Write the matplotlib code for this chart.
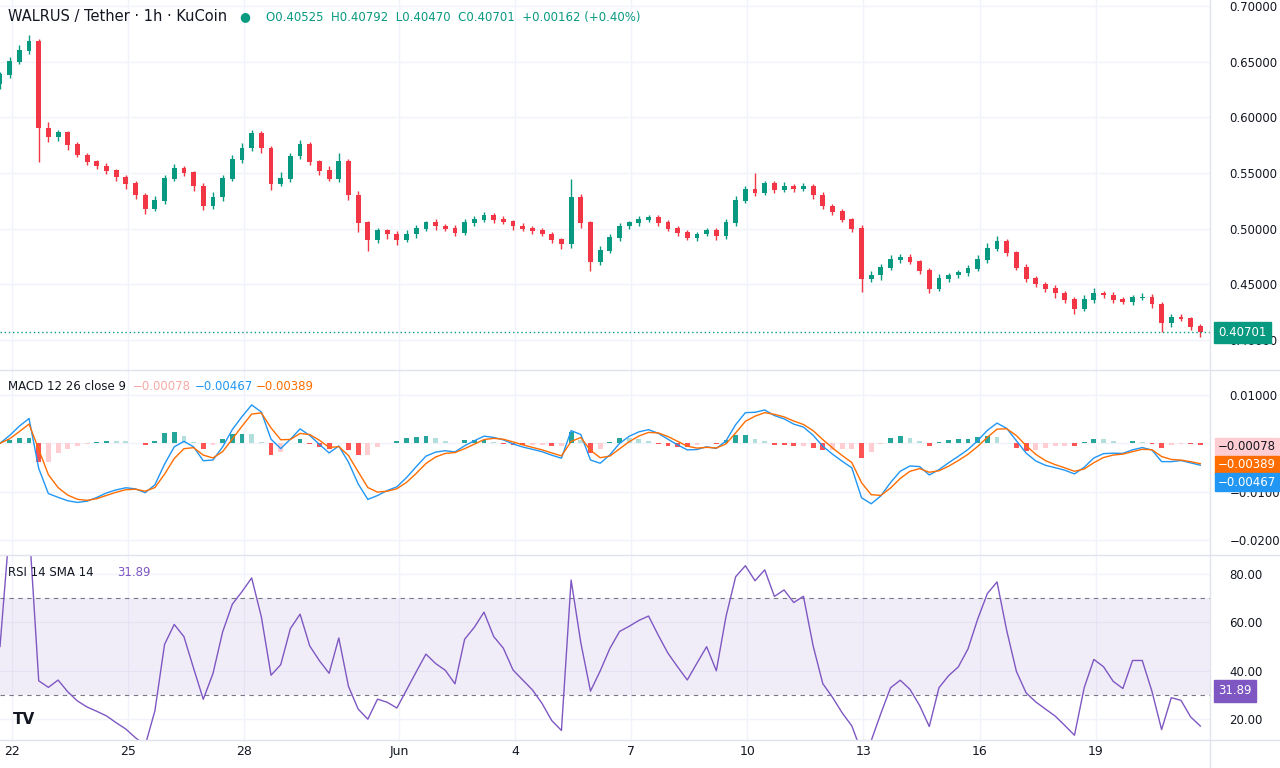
import numpy as np
import pandas as pd
import matplotlib
matplotlib.use("Agg")
import matplotlib.pyplot as plt

closes = [0.638,0.650,0.660,0.668,0.590,0.582,0.586,0.575,0.566,0.560,
          0.556,0.552,0.546,0.540,0.530,0.518,0.525,0.545,0.554,0.550,
          0.538,0.520,0.528,0.545,0.562,0.572,0.585,0.572,0.540,0.545,
          0.565,0.575,0.560,0.552,0.545,0.560,0.530,0.505,0.490,0.498,
          0.495,0.490,0.495,0.500,0.505,0.502,0.500,0.496,0.505,0.508,
          0.512,0.508,0.506,0.502,0.500,0.498,0.495,0.490,0.486,0.528,
          0.505,0.470,0.480,0.492,0.502,0.505,0.508,0.510,0.505,0.500,
          0.496,0.492,0.495,0.498,0.493,0.505,0.525,0.535,0.532,0.540,
          0.535,0.538,0.536,0.538,0.530,0.520,0.515,0.508,0.500,0.455,
          0.458,0.465,0.472,0.474,0.470,0.462,0.446,0.455,0.458,0.460,
          0.464,0.472,0.482,0.488,0.478,0.465,0.455,0.450,0.446,0.442,
          0.436,0.428,0.436,0.442,0.440,0.436,0.434,0.438,0.438,0.432,
          0.415,0.420,0.419,0.412,0.40701]
first_open = 0.630
wick_up = [3,4,5,6,2,6,3,2,3,2,2,3,2,2,3,2,4,3,4,2,2,3,5,3,4,5,4,3,2,6,
           3,5,3,2,4,8,3,4,2,3,2,3,4,3,2,4,2,3,4,3,3,2,3,2,3,2,3,2,2,17,
           3,2,4,3,3,2,3,2,2,3,2,3,2,3,3,4,4,3,15,3,3,4,2,3,2,3,2,3,2,3,
           4,3,4,3,3,2,3,4,2,3,3,4,5,5,3,2,3,2,2,3,2,3,4,5,2,3,3,2,4,3,
           2,3,3,2,2]
wick_dn = [5,3,2,3,30,4,3,4,2,3,2,3,3,4,3,5,2,3,2,3,4,3,2,3,2,3,2,4,5,2,
           3,2,3,4,2,3,4,8,10,3,4,5,2,3,2,3,2,3,2,3,2,3,2,3,2,3,2,3,4,3,
           4,8,3,2,3,2,3,2,3,2,3,2,3,2,3,2,3,2,3,2,3,2,3,2,3,2,3,2,3,12,
           3,4,2,3,2,3,4,2,3,2,3,2,3,2,3,2,3,2,3,4,3,5,2,3,2,3,2,3,2,3,
           8,3,2,3,4]
day_labels = ["22","25","28","Jun","4","7","10","13","16","19","22"]
day_offsets = [0,3,6,10,13,16,19,22,25,28,31]

UP, DN = "#089981", "#f23645"
c = np.array(closes)
o = np.concatenate([[first_open], c[:-1]])
h = np.maximum(o, c) + np.array(wick_up) / 1000
l = np.minimum(o, c) - np.array(wick_dn) / 1000
n = len(c)
idx = np.arange(n)
col = np.where(c >= o, UP, DN)

s = pd.Series(c)
macd = (s.ewm(span=4, adjust=False).mean() - s.ewm(span=7, adjust=False).mean()) * 0.9
sig = macd.ewm(span=2.5, adjust=False).mean()
hist = macd - sig
d = s.diff()
up = d.clip(lower=0).ewm(alpha=1/5, adjust=False).mean()
dn = (-d.clip(upper=0)).ewm(alpha=1/5, adjust=False).mean()
rsi = (100 - 100 / (1 + up / dn)).fillna(50)

fig = plt.figure(figsize=(12.8, 7.68), dpi=100)
W = 1210 / 1280
ax1 = fig.add_axes([0, 398/768, W, 370/768])
ax2 = fig.add_axes([0, 213/768, W, 185/768], sharex=ax1)
ax3 = fig.add_axes([0, 28/768, W, 185/768], sharex=ax1)
px = 9.68
xl = (0, 1210 / px)
tickpos = [(12 + 38.7 * dd) / px for dd in day_offsets]
grid = "#f0f3fa"
for ax in (ax1, ax2, ax3):
    for sp in ax.spines.values():
        sp.set_visible(False)
    ax.yaxis.tick_right()
    ax.tick_params(axis="y", length=0, labelsize=8.5, colors="#131722", pad=14)
    ax.tick_params(axis="x", length=0)
    ax.set_xticks(tickpos)
    ax.grid(True, color=grid, lw=1)
    ax.set_axisbelow(True)
    ax.set_xlim(xl)
for ax in (ax1, ax2):
    plt.setp(ax.get_xticklabels(), visible=False)
ax3.set_xticklabels(day_labels, fontsize=9, color="#131722")

ax1.vlines(idx, l, h, colors=col, lw=1)
ax1.bar(idx, np.abs(c - o) + 0.0006, bottom=np.minimum(o, c), width=0.5, color=col)
ax1.set_ylim(0.373, 0.7054)
ax1.set_yticks(np.arange(0.40, 0.701, 0.05))
ax1.yaxis.set_major_formatter(matplotlib.ticker.FormatStrFormatter("%.5f"))
ax1.axhline(c[-1], color=UP, lw=1, ls=(0, (1, 2)))
ax1.text(1.0 + 8/1210, c[-1], f"{c[-1]:.5f}", transform=ax1.get_yaxis_transform(),
         color="white", fontsize=8.5, va="center", ha="left",
         bbox=dict(boxstyle="square,pad=0.35", fc=UP, ec=UP))
fig.text(8/1280, 1 - 17/768, "WALRUS / Tether · 1h · KuCoin", fontsize=10.5, color="#131722", va="center")
fig.text(239/1280, 1 - 17/768, "●", fontsize=9, color=UP, va="center")
fig.text(266/1280, 1 - 17/768, "O0.40525  H0.40792  L0.40470  C0.40701  +0.00162 (+0.40%)",
         fontsize=8.5, color=UP, va="center")

hc = []
for i in range(n):
    prev = hist.iloc[i-1] if i > 0 else 0
    if hist.iloc[i] >= 0:
        hc.append("#26a69a" if hist.iloc[i] >= prev else "#b2dfdb")
    else:
        hc.append("#ff5252" if hist.iloc[i] < prev else "#ffcdd2")
ax2.bar(idx, hist, width=0.5, color=hc)
ax2.plot(idx, macd, color="#2196f3", lw=1)
ax2.plot(idx, sig, color="#ff6d00", lw=1)
ax2.set_ylim(-0.0231, 0.01515)
ax2.set_yticks([0.01, 0, -0.01, -0.02])
ax2.set_yticklabels(["0.01000", "", "−0.01000", "−0.02000"])
fig.text(8/1280, 1 - 386/768, "MACD 12 26 close 9", fontsize=8.5, color="#131722", va="center")
fig.text(133/1280, 1 - 386/768, "−0.00078", fontsize=8.5, color="#f7a9a7", va="center")
fig.text(195/1280, 1 - 386/768, "−0.00467", fontsize=8.5, color="#2196f3", va="center")
fig.text(256/1280, 1 - 386/768, "−0.00389", fontsize=8.5, color="#ff6d00", va="center")
for ypix, txt, fc, tc in [(447, "−0.00078", "#ffcdd2", "#131722"), (465, "−0.00389", "#ff6d00", "white"), (482, "−0.00467", "#2196f3", "white")]:
    fig.text(1218/1280, 1 - ypix/768, txt, fontsize=8.5, color=tc, va="center",
             bbox=dict(boxstyle="square,pad=0.25", fc=fc, ec=fc))

ax3.axhspan(30, 70, color="#7e57c2", alpha=0.1, lw=0)
ax3.axhline(70, color="#787b86", lw=0.8, ls=(0, (4, 4)))
ax3.axhline(30, color="#787b86", lw=0.8, ls=(0, (4, 4)))
ax3.plot(idx, rsi, color="#7e57c2", lw=1)
ax3.set_ylim(11.3, 87.9)
ax3.set_yticks([20, 40, 60, 80])
ax3.set_yticklabels(["20.00", "40.00", "60.00", "80.00"])
fig.text(8/1280, 1 - 572/768, "RSI 14 SMA 14", fontsize=8.5, color="#131722", va="center")
fig.text(117/1280, 1 - 572/768, "31.89", fontsize=8.5, color="#7e57c2", va="center")
fig.text(1218/1280, 1 - 691/768, "31.89", fontsize=8.5, color="white", va="center",
         bbox=dict(boxstyle="square,pad=0.35", fc="#7e57c2", ec="#7e57c2"))

for ypix in (370, 555, 740):
    fig.add_artist(plt.Line2D([0, 1], [1 - ypix/768] * 2, color="#e0e3eb", lw=1))
fig.add_artist(plt.Line2D([W, W], [0, 1], color="#e0e3eb", lw=1))
fig.text(24/1280, 1 - 719/768, "TV", fontsize=11, fontweight="bold", color="#131722", va="center", ha="center")
fig.savefig("out.png", dpi=100)
